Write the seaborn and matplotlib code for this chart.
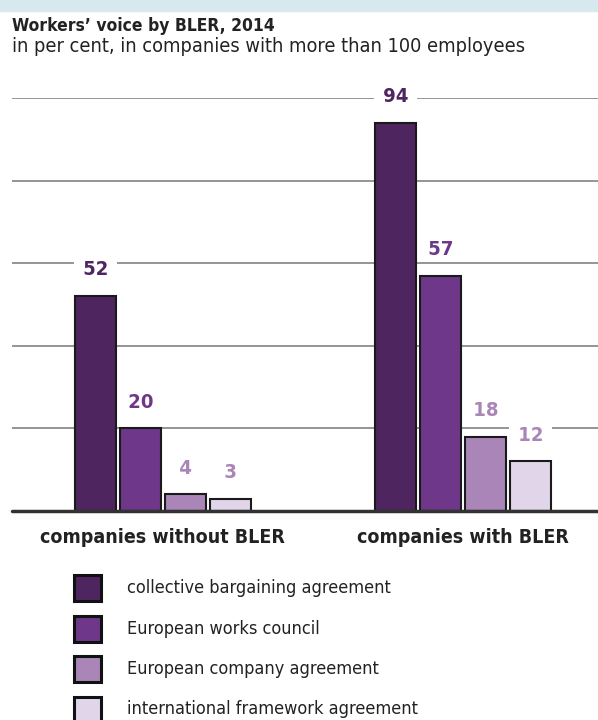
import matplotlib
matplotlib.use("Agg")
import matplotlib.pyplot as plt
import seaborn as sns
import pandas as pd
from matplotlib.patches import Rectangle

# data
groups = ["companies without BLER", "companies with BLER"]
kinds = ["collective bargaining agreement", "European works council",
         "European company agreement", "international framework agreement"]
without_bler = [52, 20, 4, 3]
with_bler = [94, 57, 18, 12]

bar_colors = ["#4f2560", "#6e3789", "#a985b8", "#e1d6e9"]
label_colors = ["#4f2560", "#6e3789", "#a985b8", "#a985b8"]

rows = []
for g, vals in zip(groups, [without_bler, with_bler]):
    for k, v in zip(kinds, vals):
        rows.append({"group": g, "kind": k, "value": v})
df = pd.DataFrame(rows)

sns.set_style("white")
plt.rcParams["font.family"] = ["DejaVu Sans"]
plt.rcParams["font.stretch"] = "condensed"

W, H = 598, 720
fig = plt.figure(figsize=(W / 100, H / 100), dpi=100)

# top band
fig.patches.append(Rectangle((0, 1 - 11 / H), 1, 11 / H, transform=fig.transFigure,
                             color="#d7e9ee", zorder=0))

fig.text(12 / W, 1 - 26 / H, "Workers\u2019 voice by BLER, 2014", fontsize=12.5,
         fontweight="bold", color="#222222", va="center", ha="left")
fig.text(12 / W, 1 - 47 / H, "in per cent, in companies with more than 100 employees",
         fontsize=14.3, color="#222222", va="center", ha="left")

ax = fig.add_axes([12 / W, 1 - 511 / H, 1 - 12 / W, (511 - 98) / H])
sns.barplot(data=df, x="group", y="value", hue="kind", palette=bar_colors,
            saturation=1, width=0.6, gap=0.1, edgecolor="#1a1a1a", linewidth=1.5,
            legend=False, ax=ax, zorder=6)

ax.set_ylim(0, 100)
ax.set_xlim(-0.503, 1.45)
ax.set_yticks([20, 40, 60, 80, 100])
ax.yaxis.grid(True, color="#8c8c8c", linewidth=1.3)
ax.set_axisbelow(True)
ax.tick_params(left=False, bottom=False, labelleft=False, labelbottom=False)
for s in ax.spines.values():
    s.set_visible(False)
ax.axhline(0, color="#333333", linewidth=2.5, zorder=7, clip_on=False)
ax.set_xlabel("")
ax.set_ylabel("")

# value labels (white box breaks the gridlines)
for i, cont in enumerate(ax.containers):
    for bar in cont:
        h = bar.get_height()
        ax.annotate(f" {h:.0f} ", (bar.get_x() + bar.get_width() / 2, h),
                    xytext=(0, 19), textcoords="offset points", ha="center", va="center",
                    fontsize=14.5, fontweight="bold", color=label_colors[i], zorder=5,
                    bbox=dict(boxstyle="square,pad=0.15", fc="white", ec="none"))

# category labels
for j, g in enumerate(groups):
    ax.annotate(g, (j, 0), xytext=(0, -19), textcoords="offset points",
                ha="center", va="center", fontsize=14, fontweight="bold",
                color="#222222", annotation_clip=False)

# legend
for k, (lab, c) in enumerate(zip(kinds, bar_colors)):
    yc = 588 + k * 40.5
    fig.patches.append(Rectangle((74 / W, 1 - (yc + 13) / H), 27 / W, 26 / H,
                                 transform=fig.transFigure, facecolor=c,
                                 edgecolor="#111111", linewidth=2.2))
    fig.text(127 / W, 1 - yc / H, lab, fontsize=13, color="#222222",
             va="center", ha="left")

fig.savefig("out.png", dpi=100)
